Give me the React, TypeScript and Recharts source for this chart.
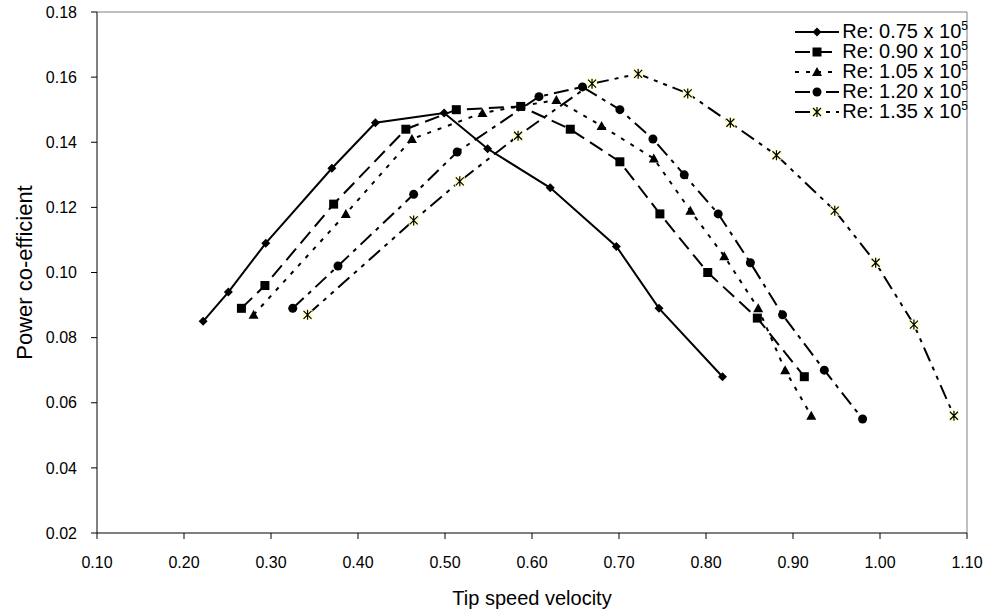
import React from "react";
import { LineChart, Line, XAxis, YAxis, Legend, ReferenceLine } from "recharts";

const FONT = '"Liberation Sans", Arial, sans-serif';

const X_TICKS = [0.1, 0.2, 0.3, 0.4, 0.5, 0.6, 0.7, 0.8, 0.9, 1.0, 1.1];
const Y_TICKS = [0.02, 0.04, 0.06, 0.08, 0.1, 0.12, 0.14, 0.16, 0.18];

const RE_LABELS = ["0.75", "0.90", "1.05", "1.20", "1.35"];

// tip speed ratio / power coefficient, one pair of arrays per Reynolds number
const TSR_075 = [0.222, 0.251, 0.294, 0.37, 0.42, 0.499, 0.549, 0.621, 0.697, 0.746, 0.819];
const CP_075 = [0.085, 0.094, 0.109, 0.132, 0.146, 0.149, 0.138, 0.126, 0.108, 0.089, 0.068];

const TSR_090 = [0.266, 0.293, 0.372, 0.455, 0.513, 0.587, 0.644, 0.701, 0.747, 0.802, 0.859, 0.913];
const CP_090 = [0.089, 0.096, 0.121, 0.144, 0.15, 0.151, 0.144, 0.134, 0.118, 0.1, 0.086, 0.068];

const TSR_105 = [0.28, 0.386, 0.462, 0.543, 0.628, 0.68, 0.74, 0.782, 0.821, 0.86, 0.891, 0.921];
const CP_105 = [0.087, 0.118, 0.141, 0.149, 0.153, 0.145, 0.135, 0.119, 0.105, 0.089, 0.07, 0.056];

const TSR_120 = [0.325, 0.377, 0.464, 0.514, 0.608, 0.658, 0.701, 0.739, 0.775, 0.814, 0.851, 0.888, 0.936, 0.98];
const CP_120 = [0.089, 0.102, 0.124, 0.137, 0.154, 0.157, 0.15, 0.141, 0.13, 0.118, 0.103, 0.087, 0.07, 0.055];

const TSR_135 = [0.342, 0.464, 0.517, 0.584, 0.669, 0.722, 0.779, 0.828, 0.881, 0.948, 0.995, 1.039, 1.085];
const CP_135 = [0.087, 0.116, 0.128, 0.142, 0.158, 0.161, 0.155, 0.146, 0.136, 0.119, 0.103, 0.084, 0.056];

const toPoints = (tsr: number[], cp: number[]) => tsr.map((x, i) => ({ tsr: x, cp: cp[i] }));

type MarkerKind = "diamond" | "square" | "triangle" | "circle" | "star";

interface SeriesDef {
  label: string;
  data: { tsr: number; cp: number }[];
  dash?: string;
  marker: MarkerKind;
}

const SERIES: SeriesDef[] = [
  { label: RE_LABELS[0], data: toPoints(TSR_075, CP_075), dash: undefined, marker: "diamond" },
  { label: RE_LABELS[1], data: toPoints(TSR_090, CP_090), dash: "15 7", marker: "square" },
  { label: RE_LABELS[2], data: toPoints(TSR_105, CP_105), dash: "4 7", marker: "triangle" },
  { label: RE_LABELS[3], data: toPoints(TSR_120, CP_120), dash: "15 6 4 6", marker: "circle" },
  { label: RE_LABELS[4], data: toPoints(TSR_135, CP_135), dash: "15 6 4 6 4 6", marker: "star" },
];

function Marker({ kind, cx, cy }: { kind: MarkerKind; cx: number; cy: number }) {
  if (cx == null || cy == null) return null;
  switch (kind) {
    case "diamond":
      return <polygon points={`${cx},${cy - 4.5} ${cx + 4.5},${cy} ${cx},${cy + 4.5} ${cx - 4.5},${cy}`} fill="#000" />;
    case "square":
      return <rect x={cx - 4.5} y={cy - 4.5} width={9} height={9} fill="#000" />;
    case "triangle":
      return <polygon points={`${cx},${cy - 5} ${cx + 5},${cy + 4} ${cx - 5},${cy + 4}`} fill="#000" />;
    case "circle":
      return <circle cx={cx} cy={cy} r={4.5} fill="#000" />;
    default:
      return (
        <g>
          <rect x={cx - 5} y={cy - 5} width={10} height={10} fill="#ffffcc" />
          <path
            d={`M${cx - 4},${cy - 4}L${cx + 4},${cy + 4}M${cx + 4},${cy - 4}L${cx - 4},${cy + 4}M${cx},${cy - 5}L${cx},${cy + 5}`}
            stroke="#000"
            strokeWidth={1.2}
          />
        </g>
      );
  }
}

function LegendBox() {
  return (
    <div style={{ fontFamily: FONT, fontSize: 20, color: "#000" }}>
      {SERIES.map((s) => (
        <div
          key={s.label}
          style={{ display: "flex", alignItems: "center", justifyContent: "flex-end", height: 20 }}
        >
          <svg width={44} height={20}>
            <line x1={0} x2={44} y1={10} y2={10} stroke="#000" strokeWidth={2} strokeDasharray={s.dash} />
            <Marker kind={s.marker} cx={22} cy={10} />
          </svg>
          <span style={{ marginLeft: 3, whiteSpace: "nowrap", lineHeight: "20px" }}>
            Re: {s.label} x 10
            <span style={{ fontSize: 12, position: "relative", top: -8 }}>5</span>
          </span>
        </div>
      ))}
    </div>
  );
}

function YTitle(props: any) {
  const vb = props.viewBox || { x: 0, y: 0, height: 0 };
  const x = vb.x + 24;
  const y = vb.y + vb.height / 2;
  return (
    <text
      x={x}
      y={y}
      transform={`rotate(-90 ${x} ${y})`}
      textAnchor="middle"
      dominantBaseline="central"
      fontSize={22}
      fontFamily={FONT}
      fill="#000"
    >
      Power co-efficient
    </text>
  );
}

function XTitle(props: any) {
  const vb = props.viewBox || { x: 0, y: 0, width: 0 };
  return (
    <text
      x={vb.x + vb.width / 2}
      y={vb.y + 65}
      textAnchor="middle"
      dominantBaseline="central"
      fontSize={20}
      fontFamily={FONT}
      fill="#000"
    >
      Tip speed velocity
    </text>
  );
}

export default function App() {
  return (
    <div style={{ position: "absolute", left: 0, top: 0, width: 994, height: 616, background: "#fff" }}>
      <LineChart width={994} height={616} margin={{ top: 12, right: 27, bottom: 10, left: 0 }}>
        <XAxis
          dataKey="tsr"
          type="number"
          domain={[0.1, 1.1]}
          ticks={X_TICKS}
          allowDataOverflow
          tickFormatter={(v: number) => v.toFixed(2)}
          tick={{ fontSize: 16, fill: "#000", fontFamily: FONT }}
          stroke="#000"
          tickSize={6}
          tickMargin={18}
          height={73}
          label={<XTitle />}
        />
        <YAxis
          dataKey="cp"
          type="number"
          domain={[0.02, 0.18]}
          ticks={Y_TICKS}
          allowDataOverflow
          tickFormatter={(v: number) => v.toFixed(2)}
          tick={{ fontSize: 16, fill: "#000", fontFamily: FONT }}
          stroke="#000"
          tickSize={6}
          tickMargin={14}
          width={97}
          label={<YTitle />}
        />
        <ReferenceLine y={0.18} stroke="#808080" strokeWidth={1} />
        <ReferenceLine x={1.1} stroke="#808080" strokeWidth={1} />
        {SERIES.map((s) => (
          <Line
            key={s.label}
            data={s.data}
            dataKey="cp"
            name={`Re: ${s.label} x 10^5`}
            type="linear"
            stroke="#000"
            strokeWidth={2}
            strokeDasharray={s.dash}
            dot={(p: any) => <Marker key={`${s.label}-${p.index}`} kind={s.marker} cx={p.cx} cy={p.cy} />}
            activeDot={false}
            isAnimationActive={false}
          />
        ))}
        <Legend
          layout="horizontal"
          verticalAlign="middle"
          align="center"
          content={() => <LegendBox />}
          wrapperStyle={{ left: 760, top: 22, width: 208, height: 100 }}
        />
      </LineChart>
    </div>
  );
}
